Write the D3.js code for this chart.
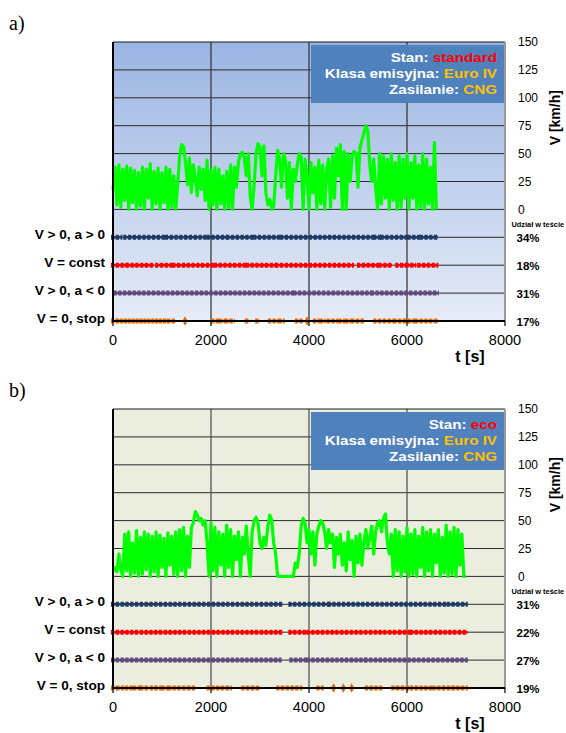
<!DOCTYPE html>
<html><head><meta charset="utf-8">
<script src="https://cdn.jsdelivr.net/npm/d3@7"></script>
<style>
body{margin:0;background:#fff}
svg{display:block}
</style>
</head><body>
<svg id="c" width="566" height="733"></svg>
<script>
// ---------------- DATA ----------------
const categories = ["V > 0, a > 0", "V = const", "V > 0, a < 0", "V = 0, stop"];
const xTicks = [0, 2000, 4000, 6000, 8000];
const vTicks = [0, 25, 50, 75, 100, 125, 150];

// panel a) – standard
const stanA = "standard";
const durationA = 6600;
const speedA = [
 18,38,4,40,2,36,8,39,0,37,6,35,0,33,3,38,0,36,10,41,0,34,5,37,0,33,6,38,0,36,2,30,
 0,22,
 48,58,56,42,
 22,46,15,40,28,12,38,18,36,8,44,
 0,35,4,38,0,36,5,30,0,34,2,40,0,38,20,
 42,50,51,46,30,50,
 12,0,22,
 50,59,56,30,57,
 15,4,9,0,3,
 30,53,45,20,50,
 44,10,42,0,36,25,
 40,50,47,0,45,
 30,0,42,15,38,0,44,5,40,0,36,45,2,
 48,10,55,30,58,0,52,
 0,50,25,48,52,
 50,20,55,62,68,
 75,70,40,
 25,45,20,
 0,50,5,48,10,45,0,50,8,42,0,48,2,45,10,50,0,42,10,48,0,40,2,50,0,45,5,38,0,60,0
];
const shareA = ["34%", "18%", "31%", "17%"];
const accA = [[0,150],[250,1050],[1100,1900],[1950,2300],[2350,2850],[2900,3400],[3450,5300],[5350,5450],[5500,6000],[6050,6250],[6300,6590]];
const constA = [[0,250],[300,800],[900,1200],[1250,2050],[2100,2700],[2750,3300],[3350,4880],[5020,5390],[5460,5660],[5800,5940],[6010,6150],[6250,6600]];
const decA = [[50,3650],[3720,5250],[5300,6610]];
const stopA = [[0,40],[100,120],[180,200],[260,280],[340,360],[420,440],[500,520],[580,600],[660,680],[740,760],[820,840],[900,920],[980,1000],[1060,1080],[1140,1230],
 [1470,1470],[2040,2130],[2200,2260],[2320,2450],[2730,2750],[2940,2960],[3200,3350],[3420,3470],[3750,3830],[3960,3960],
 [4120,4180],[4260,4300],[4400,4560],[4640,4700],[4780,4820],[4900,5080],[5350,5700],[5760,6000],[6050,6150],[6200,6610]];

// panel b) – eco
const stanB = "eco";
const durationB = 7200;
const speedB = [
 5,8,4,20,6,
 0,38,5,40,0,30,3,41,0,35,2,40,6,38,0,36,4,40,0,37,8,34,0,39,10,36,2,40,0,42,5,44,0,36,8,44,
 48,58,55,50,
 52,46,50,30,
 0,48,5,44,0,40,10,38,0,46,8,42,0,36,15,40,0,35,20,45,20,
 0,40,50,53,48,
 30,25,35,28,
 45,55,50,30,
 20,0,
 0,0,0,0,0,0,0,0,
 12,8,20,
 45,52,48,30,
 42,20,40,10,38,
 45,50,48,40,
 25,42,30,38,8,35,20,
 38,10,30,5,40,15,32,0,36,12,38,10,30,42,25,35,45,20,40,48,
 50,40,52,56,30,
 20,38,0,42,5,40,0,36,4,44,0,38,2,42,0,36,8,44,0,40,5,42,0,38,12,42,0,35,3,46,0,40,2,44,0,42,10,38,0,0
];
const shareB = ["31%", "22%", "27%", "19%"];
const accB = [[0,3420],[3620,4400],[4420,6780],[6850,7200]];
const constB = [[0,3420],[3620,3930],[3990,5820],[5860,6040],[6100,7200]];
const decB = [[0,1700],[1760,3400],[3640,3930],[3990,5130],[5170,7200]];
const stopB = [[0,40],[110,180],[280,380],[450,550],[590,690],[790,830],[890,960],[1030,1100],[1160,1640],[1950,2390],[2660,2970],[3370,3820],
 [4190,4260],[4500,4500],[4700,4700],[4870,4870],[5180,5450],[5720,6050],[6100,6500],[6560,6900],[6950,7200]];

const klasa = "Euro IV";
const paliwo = "CNG";

// ---------------- DRAW ----------------
const SANS = "'Liberation Sans', Arial, sans-serif";
const svg = d3.select("#c").style("font-family", SANS);
const defs = svg.append("defs");
const gA = defs.append("linearGradient").attr("id","gA").attr("x1",0).attr("y1",0).attr("x2",0).attr("y2",1);
gA.append("stop").attr("offset","0%").attr("stop-color","#9ab4e2");
gA.append("stop").attr("offset","100%").attr("stop-color","#e6ecf7");

const x = d3.scaleLinear().domain([0, 8000]).range([113, 505]);
const y = d3.scaleLinear().domain([-100, 150]).range([321, 42]);
const rowLevel = d3.scalePoint().domain(categories).range([-25, -100]);
const catColors = ["#1f3b63", "#ff0000", "#604a7b", "#e36c09"];

function panel(offset, cfg) {
  const g = svg.append("g").attr("transform", `translate(0,${offset})`);
  g.append("rect").attr("x", x(0)).attr("y", y(150)).attr("width", x(8000) - x(0)).attr("height", y(-100) - y(150))
    .attr("fill", cfg.fill);

  // horizontal gridlines
  g.selectAll("line.h").data(d3.range(-75, 150, 25)).join("line")
    .attr("x1", x(0)).attr("x2", x(8000)).attr("y1", d => y(d)).attr("y2", d => y(d))
    .attr("stroke", "#2b2b2b").attr("stroke-width", 1);
  // vertical gridlines
  g.selectAll("line.v").data(xTicks.slice(1, -1)).join("line")
    .attr("x1", d => x(d)).attr("x2", d => x(d)).attr("y1", y(150)).attr("y2", y(-100))
    .attr("stroke", cfg.vgrid).attr("stroke-width", 1.3);

  // category marker rows
  cfg.states.forEach((ints, ci) => {
    const yy = y(rowLevel(categories[ci]));
    const col = catColors[ci];
    const row = g.append("g");
    row.selectAll("line.base").data(ints.filter(d => d[1] > d[0])).join("line")
      .attr("x1", d => x(d[0]) - 1.5).attr("x2", d => x(d[1]) + 1.5)
      .attr("y1", yy).attr("y2", yy)
      .attr("stroke", col).attr("stroke-width", 2.6);
    row.selectAll("line.tex").data(ints.filter(d => d[1] > d[0])).join("line")
      .attr("x1", d => x(d[0]) - 2).attr("x2", d => x(d[1]) + 2)
      .attr("y1", yy).attr("y2", yy)
      .attr("stroke", col).attr("stroke-width", 5).attr("stroke-dasharray", "3.2,1.6");
    row.selectAll("path").data(ints.filter(d => d[1] === d[0])).join("path")
      .attr("transform", d => `translate(${x(d[0])},${yy})`)
      .attr("d", d3.symbol(d3.symbolDiamond, 26))
      .attr("fill", col);
  });

  // speed line
  const step = cfg.duration / (cfg.speed.length - 1);
  g.append("path").datum(cfg.speed)
    .attr("d", d3.line().x((d, i) => x(i * step)).y(d => y(d)))
    .attr("fill", "none").attr("stroke", "#00ff00").attr("stroke-width", 3.2)
    .attr("stroke-linejoin", "round");

  // borders
  g.append("line").attr("x1", x(0)).attr("x2", x(8000)).attr("y1", y(150)).attr("y2", y(150)).attr("stroke", "#1a1a1a").attr("stroke-width", 1.2);
  g.append("line").attr("x1", x(8000)).attr("x2", x(8000)).attr("y1", y(150)).attr("y2", y(-100)).attr("stroke", "#9a9a9a").attr("stroke-width", 2);
  g.append("line").attr("x1", x(0)).attr("x2", x(0)).attr("y1", y(150)).attr("y2", y(-100)).attr("stroke", "#000").attr("stroke-width", 2);
  g.append("line").attr("x1", x(0) - 1).attr("x2", x(8000)).attr("y1", y(-100)).attr("y2", y(-100)).attr("stroke", "#000").attr("stroke-width", 2);
  g.selectAll("line.tk").data(xTicks).join("line")
    .attr("x1", d => x(d)).attr("x2", d => x(d)).attr("y1", y(-100)).attr("y2", y(-100) + 5)
    .attr("stroke", "#000").attr("stroke-width", 1.2);

  // x tick labels
  g.selectAll("text.xt").data(xTicks).join("text")
    .attr("x", d => x(d)).attr("y", y(-100) + 24).attr("text-anchor", "middle")
    .attr("font-size", 14.5).attr("fill", "#000").text(d => d);
  g.append("text").attr("x", 470).attr("y", y(-100) + 41).attr("text-anchor", "middle")
    .attr("font-size", 16).attr("font-weight", "bold").text("t [s]");

  // right axis labels
  g.selectAll("text.yt").data(vTicks).join("text")
    .attr("x", 518).attr("y", d => y(d) + 4.2).attr("font-size", 12).text(d => d);
  g.append("text").attr("transform", `translate(560,${y(75) - 8}) rotate(-90)`)
    .attr("text-anchor", "middle").attr("font-size", 14).attr("font-weight", "bold").text("V [km/h]");

  // shares
  g.append("text").attr("x", 511.5).attr("y", y(0) + 18).attr("font-size", 7.4).attr("font-weight", "bold").text("Udział w teście");
  g.selectAll("text.sh").data(cfg.share).join("text")
    .attr("x", 516.5).attr("y", (d, i) => y(rowLevel(categories[i])) + 5)
    .attr("font-size", 11.5).attr("font-weight", "bold").text(d => d);

  // category labels
  g.selectAll("text.cat").data(categories).join("text")
    .attr("x", 105).attr("y", d => y(rowLevel(d)) + 2).attr("text-anchor", "end")
    .attr("font-size", 13.6).attr("font-weight", "bold").text(d => d);

  // legend box
  g.append("rect").attr("x", 311).attr("y", 45).attr("width", 193).attr("height", 58).attr("fill", "#4f81bd");
  const lines = [
    [["Stan: ", "#fff"], [cfg.stan, "#ff0000"]],
    [["Klasa emisyjna: ", "#fff"], [klasa, "#ffc000"]],
    [["Zasilanie: ", "#fff"], [paliwo, "#ffc000"]]
  ];
  lines.forEach((parts, li) => {
    const t = g.append("text").attr("transform", `translate(497,${61.5 + li * 16}) scale(1.17,1)`)
      .attr("text-anchor", "end").attr("font-size", 13).attr("font-weight", "bold");
    parts.forEach(p => t.append("tspan").attr("fill", p[1]).text(p[0]));
  });

  // panel letter
  g.append("text").attr("x", 9).attr("y", 30)
    .style("font-family", "'Liberation Serif','Times New Roman',serif")
    .attr("font-size", 20).text(cfg.letter);
}

panel(0, {letter: "a)", fill: "url(#gA)", vgrid: "#3a3a3a", speed: speedA, duration: durationA,
  states: [accA, constA, decA, stopA], share: shareA, stan: stanA});
panel(367, {letter: "b)", fill: "#ebeddf", vgrid: "#555", speed: speedB, duration: durationB,
  states: [accB, constB, decB, stopB], share: shareB, stan: stanB});
</script>
</body></html>
